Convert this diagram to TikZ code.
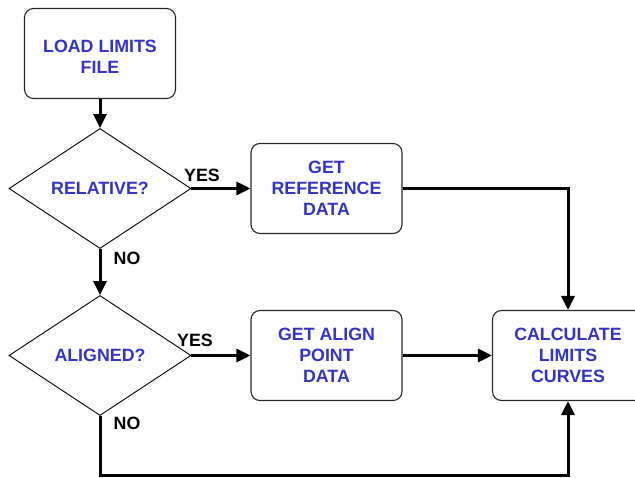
\documentclass[tikz,border=0pt]{standalone}
\usepackage{fontspec}
\setmainfont{Liberation Sans}
\usetikzlibrary{shapes.geometric,arrows.meta}
\definecolor{testo}{RGB}{51,51,204}
\begin{document}
\begin{tikzpicture}[x=1pt, y=-1pt,
    blocco/.style={draw=black!85, line width=1.1pt, rounded corners=9pt,
        minimum width=151pt, minimum height=90pt, align=center,
        font=\fontsize{17.8}{21}\selectfont\bfseries, text=testo},
    scelta/.style={draw, diamond, line width=0.9pt, inner sep=0pt,
        minimum width=182pt, minimum height=120pt,
        font=\fontsize{17.8}{21}\selectfont\bfseries, text=testo},
    freccia/.style={line width=3pt, -{Triangle[length=14pt,width=13pt]}},
    etichetta/.style={font=\fontsize{17.8}{21}\selectfont\bfseries}]

    \clip (0,0) rectangle (635,478);

    % Blocchi
    \node[blocco] (load) at (100,53.5) {\rule{0pt}{20pt}LOAD LIMITS\\FILE};
    \node[scelta] (rel) at (100,188.5) {RELATIVE?};
    \node[blocco] (ref) at (326.5,188.5) {GET\\REFERENCE\\DATA};
    \node[scelta] (ali) at (100,355.5) {ALIGNED?};
    \node[blocco] (pnt) at (326.5,355.5) {GET ALIGN\\POINT\\DATA};
    \node[blocco] (calc) at (568,355.5) {CALCULATE\\LIMITS\\CURVES};

    % Punti di piega
    \coordinate (c1) at (568,188.5);
    \coordinate (c2) at (100,475);
    \coordinate (c3) at (568,475);

    % Frecce
    \draw[freccia] (load) -- (rel);
    \draw[freccia] (rel) -- (ref);
    \draw[freccia] (rel) -- (ali);
    \draw[freccia] (ali) -- (pnt);
    \draw[freccia] (pnt) -- (calc);
    \draw[freccia] (ref.east) -- (c1) -- (calc.north);
    \draw[freccia] (ali.south) -- (c2) -- (c3) -- (calc.south);

    % Etichette
    \node[etichetta] at (202,175) {YES};
    \node[etichetta] at (195,340) {YES};
    \node[etichetta] at (127,258) {NO};
    \node[etichetta] at (127,423) {NO};

\end{tikzpicture}
\end{document}
